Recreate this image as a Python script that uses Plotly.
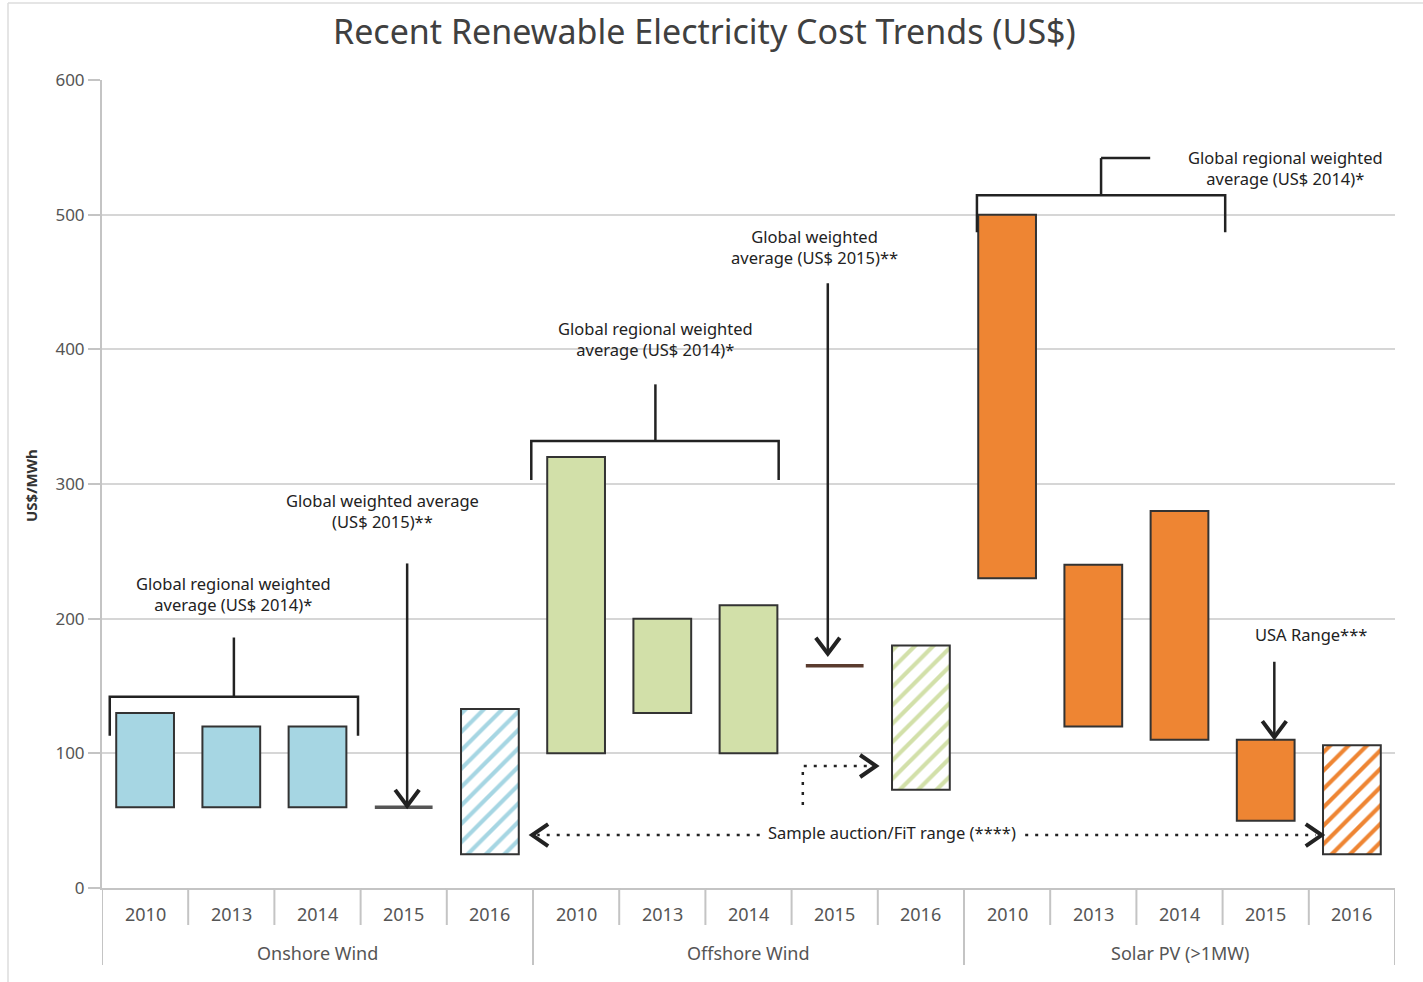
import plotly.graph_objects as go

# ---------------- data ----------------
groups = ["Onshore Wind", "Offshore Wind", "Solar PV (>1MW)"]
years = ["2010", "2013", "2014", "2015", "2016"]

onshore_low = [60, 60, 60, 60, 25]
onshore_high = [130, 120, 120, 60, 133]
offshore_low = [100, 130, 100, 165, 73]
offshore_high = [320, 200, 210, 165, 180]
solar_low = [230, 120, 110, 50, 25]
solar_high = [500, 240, 280, 110, 106]

colors = ["#a6d6e3", "#d2e0a9", "#ee8533"]
y_ticks = [0, 100, 200, 300, 400, 500, 600]

# ---------------- geometry helpers ----------------
W, H = 1423, 982
ML, MR, MT, MB = 102, 28, 80, 94
PW, PH = W - ML - MR, H - MT - MB
XR = (-0.5, 14.5)
YR = (0, 600)
PX_X = PW / (XR[1] - XR[0])
PX_Y = PH / (YR[1] - YR[0])
BAR_W = 0.67
FONT = "Noto Sans"
DARK = "#222222"

fig = go.Figure()
series = [(onshore_low, onshore_high), (offshore_low, offshore_high), (solar_low, solar_high)]

for g, (lo, hi) in enumerate(series):
    xs_solid, base_solid, h_solid = [], [], []
    for i in range(4):
        x = g * 5 + i
        if hi[i] > lo[i]:
            xs_solid.append(x)
            base_solid.append(lo[i])
            h_solid.append(hi[i] - lo[i])
        else:
            # single value -> horizontal marker line
            fig.add_trace(go.Scatter(
                x=[x - BAR_W / 2, x + BAR_W / 2], y=[lo[i], hi[i]], mode="lines",
                line=dict(color="#5a3b2e" if g == 1 else "#555555", width=3.5),
                showlegend=False, hoverinfo="skip"))
    fig.add_trace(go.Bar(
        x=xs_solid, y=h_solid, base=base_solid, width=BAR_W,
        marker=dict(color=colors[g], line=dict(color="#333333", width=2)),
        showlegend=False, hoverinfo="skip"))
    # 2016 hatched
    fig.add_trace(go.Bar(
        x=[g * 5 + 4], y=[hi[4] - lo[4]], base=[lo[4]], width=BAR_W,
        marker=dict(color="white", line=dict(color="#333333", width=2),
                    pattern=dict(shape="/", fgcolor=colors[g], bgcolor="white",
                                 fgopacity=1, size=13, solidity=0.32)),
        showlegend=False, hoverinfo="skip"))

shapes = []
annotations = []

def dxp(px):
    return px / PX_X

def dyp(px):
    return px / PX_Y

def line(x0, y0, x1, y1, width=2.5, color=DARK, dash=None):
    d = dict(type="line", xref="x", yref="y", x0=x0, y0=y0, x1=x1, y1=y1,
             line=dict(color=color, width=width))
    if dash:
        d["line"]["dash"] = dash
    shapes.append(d)

def path(pts, width=2.5, color=DARK, dash=None):
    p = "M " + " L ".join(f"{a},{b}" for a, b in pts)
    d = dict(type="path", xref="x", yref="y", path=p, line=dict(color=color, width=width))
    if dash:
        d["line"]["dash"] = dash
    shapes.append(d)

def chevron(x, y, direction, w=24, h=16, width=4):
    if direction == "down":
        pts = [(x - dxp(w / 2), y + dyp(h)), (x, y), (x + dxp(w / 2), y + dyp(h))]
    elif direction == "left":
        pts = [(x + dxp(h), y + dyp(w / 2)), (x, y), (x + dxp(h), y - dyp(w / 2))]
    else:
        pts = [(x - dxp(h), y + dyp(w / 2)), (x, y), (x - dxp(h), y - dyp(w / 2))]
    path(pts, width=width)

def text(x, y, s, size=16.5, xanchor="center"):
    annotations.append(dict(x=x, y=y, xref="x", yref="y", text=s, showarrow=False,
                            xanchor=xanchor, yanchor="middle",
                            font=dict(family=FONT, size=size, color="#222222")))

def bracket(x0, x1, ybar, yleg, xstem, ytop):
    path([(x0, yleg), (x0, ybar), (x1, ybar), (x1, yleg)])
    line(xstem, ybar, xstem, ytop)

# onshore
bracket(-0.41, 2.47, 142, 113, 1.03, 186)
text(1.03, 218, "Global regional weighted<br>average (US$ 2014)*")
line(3.04, 241, 3.04, 62)
chevron(3.04, 61, "down")
text(2.75, 280, "Global weighted average<br>(US$ 2015)**")

# offshore
bracket(4.48, 7.35, 332, 303, 5.92, 374)
text(5.92, 408, "Global regional weighted<br>average (US$ 2014)*")
line(7.92, 449, 7.92, 175)
chevron(7.92, 174, "down")
text(7.77, 476, "Global weighted<br>average (US$ 2015)**")

# solar
bracket(9.65, 12.53, 514.5, 487, 11.09, 542)
line(11.09, 542, 11.66, 542)
text(13.23, 535, "Global regional weighted<br>average (US$ 2014)*")
line(13.1, 168, 13.1, 113)
chevron(13.1, 112, "down")
text(13.53, 188, "USA Range***")

# sample auction dotted arrows
DOT = "3px,7px"
line(7.13, 39.3, 4.55, 39.3, width=2.5, dash=DOT)
chevron(4.49, 39.3, "left", w=22, h=16)
line(10.21, 39.3, 13.58, 39.3, width=2.5, dash=DOT)
chevron(13.65, 39.3, "right", w=22, h=16)
text(8.66, 41.5, "Sample auction/FiT range (****)")
path([(7.63, 61.6), (7.63, 90.6), (8.42, 90.6)], width=2.5, dash=DOT)
chevron(8.48, 90.6, "right", w=22, h=16)

# ---------------- category axis below plot ----------------
def py2paper(py):
    return (H - MB - py) / PH

GRAYLINE = "#c4c4c4"
for k in range(16):
    xb = k - 0.5
    deep = (k % 5 == 0)
    shapes.append(dict(type="line", xref="x", yref="paper", x0=xb, x1=xb, y0=0,
                       y1=py2paper(965 if deep else 925),
                       line=dict(color=GRAYLINE, width=2)))
for g, name in enumerate(groups):
    for i, yr in enumerate(years):
        annotations.append(dict(x=g * 5 + i, y=py2paper(914), xref="x", yref="paper",
                                text=yr, showarrow=False, yanchor="middle",
                                font=dict(family=FONT, size=18, color="#555555")))
    annotations.append(dict(x=g * 5 + 2, y=py2paper(953), xref="x", yref="paper",
                            text=name, showarrow=False, yanchor="middle",
                            font=dict(family=FONT, size=18, color="#555555")))

# y-axis title
annotations.append(dict(x=(19 - ML) / PW, y=py2paper(485), xref="paper", yref="paper",
                        text="<b>US$/MWh</b>", showarrow=False, textangle=-90,
                        font=dict(family=FONT, size=15, color="#333333")))
# title
annotations.append(dict(x=(704 - ML) / PW, y=py2paper(31), xref="paper", yref="paper",
                        text="Recent Renewable Electricity Cost Trends (US$)", showarrow=False,
                        yanchor="middle",
                        font=dict(family=FONT, size=34, color="#404040")))

# outer frame lines (screenshot edge)
shapes.append(dict(type="line", xref="paper", yref="paper", x0=(8 - ML) / PW, x1=(8 - ML) / PW,
                   y0=py2paper(3), y1=py2paper(982), line=dict(color="#dddddd", width=1.5)))
shapes.append(dict(type="line", xref="paper", yref="paper", x0=(8 - ML) / PW, x1=(1423 - ML) / PW,
                   y0=py2paper(3), y1=py2paper(3), line=dict(color="#dddddd", width=1.5)))

fig.update_layout(
    width=W, height=H,
    margin=dict(l=ML, r=MR, t=MT, b=MB),
    plot_bgcolor="white", paper_bgcolor="white",
    barmode="overlay", showlegend=False,
    shapes=shapes, annotations=annotations,
    xaxis=dict(range=list(XR), showgrid=False, zeroline=False, showticklabels=False,
               showline=True, linecolor=GRAYLINE, linewidth=2, ticks="", fixedrange=True),
    yaxis=dict(range=list(YR), tickvals=y_ticks, showgrid=True, gridcolor="#d6d6d6",
               gridwidth=2, zeroline=False, showline=True, linecolor=GRAYLINE, linewidth=2,
               ticks="outside", ticklen=12, tickcolor=GRAYLINE, tickwidth=2,
               tickfont=dict(family=FONT, size=17, color="#555555"), fixedrange=True),
)

fig.write_html("out.html")
